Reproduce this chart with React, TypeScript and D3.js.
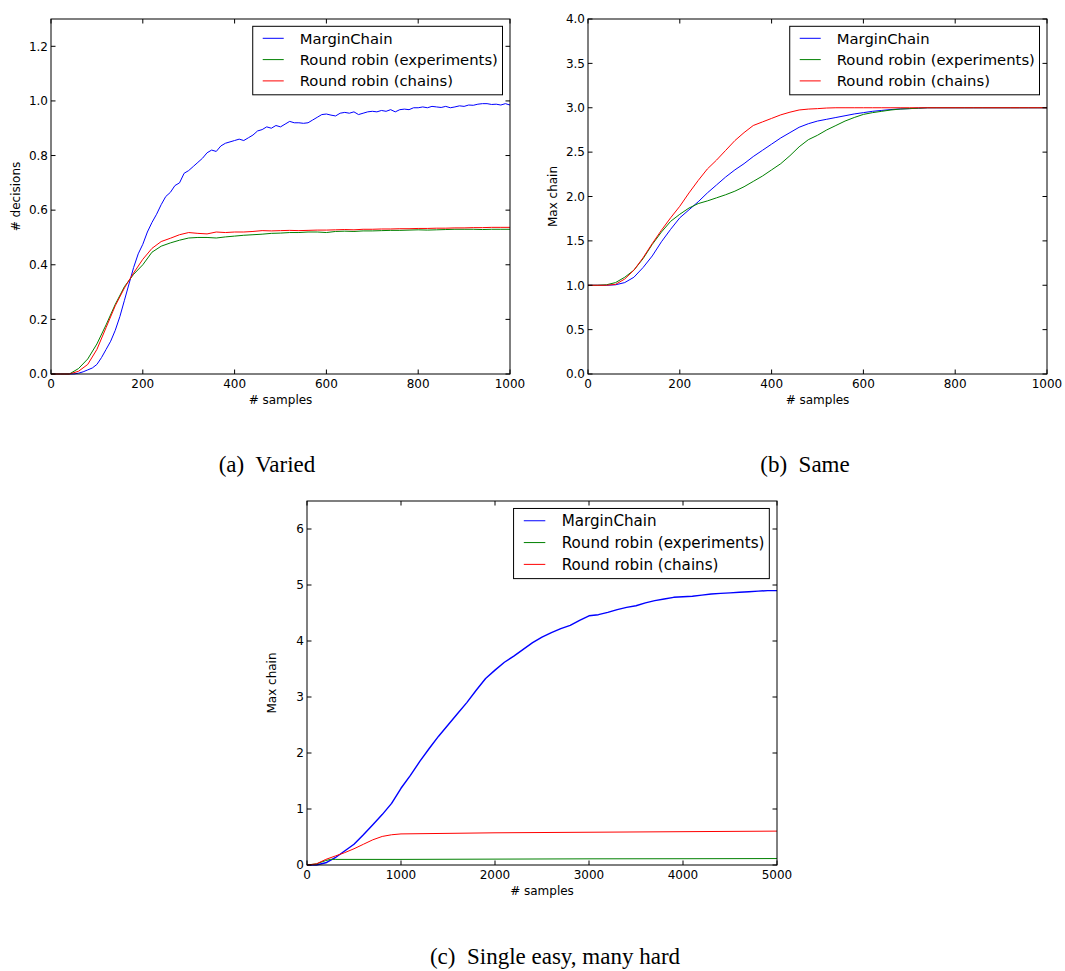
import React from 'react';
import * as d3 from 'd3';

// ---------- shared legend / colours ----------
const seriesNames = ['MarginChain', 'Round robin (experiments)', 'Round robin (chains)'];
const seriesColors = ['#0000ff', '#008000', '#ff0000'];

// ---------- (a) Varied ----------
const aXTicks = [0, 200, 400, 600, 800, 1000];
const aYTicks = [0, 0.2, 0.4, 0.6, 0.8, 1.0, 1.2];
const aBlueX = d3.range(0, 1001, 10);
const aBlue = [
  0, 0, 0, 0, 0, 0, 0.003, 0.008, 0.015, 0.022,
  0.035, 0.06, 0.09, 0.12, 0.16, 0.21, 0.27, 0.33, 0.39, 0.44,
  0.475, 0.52, 0.555, 0.585, 0.62, 0.65, 0.665, 0.69, 0.70, 0.735,
  0.745, 0.76, 0.775, 0.79, 0.81, 0.82, 0.815, 0.835, 0.845, 0.85,
  0.855, 0.86, 0.855, 0.865, 0.875, 0.89, 0.895, 0.905, 0.9, 0.91,
  0.905, 0.915, 0.925, 0.92, 0.92, 0.918, 0.92, 0.93, 0.94, 0.95,
  0.952, 0.948, 0.945, 0.955, 0.958, 0.955, 0.96, 0.95, 0.955, 0.96,
  0.962, 0.96, 0.965, 0.962, 0.968, 0.96, 0.968, 0.97, 0.968, 0.975,
  0.975, 0.978, 0.975, 0.98, 0.978, 0.976, 0.98, 0.975, 0.978, 0.982,
  0.98, 0.985, 0.984, 0.988, 0.99, 0.99, 0.987, 0.988, 0.985, 0.99,
  0.985,
];
const aRrX = d3.range(0, 1001, 20);
const aGreen = [
  0, 0, 0, 0.02, 0.055, 0.11, 0.18, 0.255, 0.32, 0.365,
  0.40, 0.446, 0.468, 0.48, 0.49, 0.498, 0.5, 0.5, 0.498, 0.502,
  0.505, 0.508, 0.51, 0.512, 0.515, 0.516, 0.518, 0.518, 0.52, 0.52,
  0.518, 0.522, 0.523, 0.522, 0.524, 0.524, 0.525, 0.526, 0.526, 0.527,
  0.528, 0.527, 0.528, 0.529, 0.53, 0.53, 0.53, 0.529, 0.53, 0.53,
  0.53,
];
const aRed = [
  0, 0, 0, 0.01, 0.035, 0.09, 0.17, 0.25, 0.315, 0.37,
  0.42, 0.46, 0.485, 0.497, 0.51, 0.518, 0.515, 0.513, 0.52, 0.518,
  0.52, 0.52, 0.522, 0.525, 0.524, 0.525, 0.526, 0.525, 0.526, 0.527,
  0.527, 0.528, 0.529, 0.528, 0.53, 0.53, 0.531, 0.531, 0.532, 0.532,
  0.533, 0.533, 0.534, 0.534, 0.535, 0.535, 0.536, 0.536, 0.537, 0.537,
  0.537,
];

// ---------- (b) Same ----------
const bXTicks = [0, 200, 400, 600, 800, 1000];
const bYTicks = [0, 0.5, 1.0, 1.5, 2.0, 2.5, 3.0, 3.5, 4.0];
const bX = d3.range(0, 1001, 20);
const bBlue = [
  1, 1, 1, 1.005, 1.03, 1.09, 1.2, 1.33, 1.49, 1.63,
  1.76, 1.85, 1.94, 2.04, 2.13, 2.22, 2.30, 2.37, 2.45, 2.52,
  2.59, 2.66, 2.72, 2.78, 2.82, 2.85, 2.87, 2.89, 2.91, 2.93,
  2.945, 2.96, 2.97, 2.98, 2.987, 2.99, 2.995, 3, 3, 3,
  3, 3, 3, 3, 3, 3, 3, 3, 3, 3,
  3,
];
const bGreen = [
  1, 1, 1.005, 1.03, 1.09, 1.17, 1.3, 1.46, 1.6, 1.72,
  1.8, 1.87, 1.92, 1.95, 1.985, 2.02, 2.06, 2.11, 2.17, 2.23,
  2.3, 2.37, 2.46, 2.56, 2.64, 2.69, 2.75, 2.8, 2.85, 2.89,
  2.925, 2.945, 2.96, 2.975, 2.985, 2.99, 2.995, 3, 3, 3,
  3, 3, 3, 3, 3, 3, 3, 3, 3, 3,
  3,
];
const bRed = [
  1, 1, 1, 1.01, 1.07, 1.17, 1.31, 1.47, 1.62, 1.76,
  1.89, 2.04, 2.18, 2.31, 2.41, 2.52, 2.63, 2.72, 2.8, 2.84,
  2.88, 2.92, 2.95, 2.975, 2.985, 2.99, 2.997, 3, 3, 3,
  3, 3, 3, 3, 3, 3, 3, 3, 3, 3,
  3, 3, 3, 3, 3, 3, 3, 3, 3, 3,
  3,
];

// ---------- (c) Single easy, many hard ----------
const cXTicks = [0, 1000, 2000, 3000, 4000, 5000];
const cYTicks = [0, 1, 2, 3, 4, 5, 6];
const cBlueX = d3.range(0, 5001, 100);
const cBlue = [
  0, 0, 0.04, 0.13, 0.25, 0.37, 0.54, 0.72, 0.9, 1.1,
  1.37, 1.6, 1.85, 2.08, 2.3, 2.5, 2.7, 2.9, 3.12, 3.33,
  3.48, 3.62, 3.73, 3.85, 3.97, 4.07, 4.15, 4.22, 4.28, 4.37,
  4.45, 4.47, 4.51, 4.56, 4.6, 4.63, 4.68, 4.72, 4.75, 4.78,
  4.79, 4.8, 4.82, 4.84, 4.85, 4.86, 4.87, 4.88, 4.89, 4.9,
  4.9,
];
const cRedX = [0, 100, 200, 300, 400, 500, 600, 700, 800, 900, 1000, 1500, 2000, 2500, 3000, 3500, 4000, 4500, 5000];
const cRed = [0, 0.02, 0.1, 0.16, 0.22, 0.29, 0.37, 0.45, 0.51, 0.54, 0.555, 0.565, 0.575, 0.58, 0.585, 0.59, 0.595, 0.6, 0.605];
const cGreenX = [0, 100, 200, 250, 300, 500, 1000, 2000, 3000, 4000, 5000];
const cGreen = [0, 0.02, 0.08, 0.1, 0.1, 0.1, 0.1, 0.105, 0.11, 0.112, 0.115];

type Series = { xs: number[]; ys: number[]; color: string; width?: number };

type PanelProps = {
  left: number; top: number; width: number; height: number;
  xDomain: [number, number]; yDomain: [number, number];
  xTicks: number[]; yTicks: number[]; yFmt: (v: number) => string;
  yLabel: string; series: Series[];
};

const FONT = 'DejaVu Sans, sans-serif';

function Panel(p: PanelProps) {
  const x = d3.scaleLinear().domain(p.xDomain).range([p.left, p.left + p.width]);
  const y = d3.scaleLinear().domain(p.yDomain).range([p.top + p.height, p.top]);
  const line = d3.line<[number, number]>().x((d) => x(d[0])).y((d) => y(d[1]));
  const bottom = p.top + p.height;
  const right = p.left + p.width;
  const tl = 4.5;
  const k = p.width / 459;
  const lgLeft = p.left + 0.4395 * p.width;
  const lgRight = right - 7.5 * k;
  const lgTop = p.top + 7.3 * k;
  const lgH = 68.5 * k;
  const rowY = [12, 33.3, 54.6].map((v) => lgTop + v * k);
  const fs = 14.8 * k;
  return (
    <g>
      {p.series.map((s, i) => (
        <path key={i} d={line(s.xs.map((xv, j) => [xv, s.ys[j]] as [number, number])) || ''}
          fill="none" stroke={s.color} strokeWidth={s.width ?? 1} strokeLinejoin="round" />
      ))}
      <rect x={p.left} y={p.top} width={p.width} height={p.height} fill="none" stroke="#000" strokeWidth={1} />
      {p.xTicks.map((t) => (
        <g key={'x' + t}>
          <line x1={x(t)} x2={x(t)} y1={bottom} y2={bottom - tl} stroke="#000" />
          <line x1={x(t)} x2={x(t)} y1={p.top} y2={p.top + tl} stroke="#000" />
          <text x={x(t)} y={bottom + 14} textAnchor="middle" fontFamily={FONT} fontSize={12}>{String(t)}</text>
        </g>
      ))}
      {p.yTicks.map((t) => (
        <g key={'y' + t}>
          <line x1={p.left} x2={p.left + tl} y1={y(t)} y2={y(t)} stroke="#000" />
          <line x1={right} x2={right - tl} y1={y(t)} y2={y(t)} stroke="#000" />
          <text x={p.left - 3} y={y(t) + 4.3} textAnchor="end" fontFamily={FONT} fontSize={12}>{p.yFmt(t)}</text>
        </g>
      ))}
      <text x={p.left + p.width / 2} y={bottom + 29.5} textAnchor="middle" fontFamily={FONT} fontSize={12}># samples</text>
      <text transform={`translate(${p.left - 31},${p.top + p.height / 2}) rotate(-90)`} textAnchor="middle"
        fontFamily={FONT} fontSize={12}>{p.yLabel}</text>
      <rect x={lgLeft} y={lgTop} width={lgRight - lgLeft} height={lgH} fill="#fff" stroke="#000" strokeWidth={1} />
      {seriesNames.map((n, i) => (
        <g key={n}>
          <line x1={lgLeft + 10 * k} x2={lgLeft + 31 * k} y1={rowY[i]} y2={rowY[i]} stroke={seriesColors[i]} strokeWidth={1} />
          <text x={lgLeft + 47 * k} y={rowY[i] + 5.2 * k} fontFamily={FONT} fontSize={fs}>{n}</text>
        </g>
      ))}
    </g>
  );
}

const CAP = 'Liberation Serif, Times New Roman, serif';

export default function App() {
  const f1 = (v: number) => v.toFixed(1);
  const f0 = (v: number) => v.toFixed(0);
  return (
    <svg width={1065} height={971} style={{ position: 'absolute', left: 0, top: 0, background: '#fff' }}>
      <rect x={0} y={0} width={1065} height={971} fill="#fff" />
      <Panel left={51} top={19} width={459} height={355} xDomain={[0, 1000]} yDomain={[0, 1.3]}
        xTicks={aXTicks} yTicks={aYTicks} yFmt={f1} yLabel="# decisions"
        series={[
          { xs: aBlueX, ys: aBlue, color: seriesColors[0] },
          { xs: aRrX, ys: aGreen, color: seriesColors[1] },
          { xs: aRrX, ys: aRed, color: seriesColors[2] },
        ]} />
      <Panel left={588} top={19} width={459} height={355} xDomain={[0, 1000]} yDomain={[0, 4]}
        xTicks={bXTicks} yTicks={bYTicks} yFmt={f1} yLabel="Max chain"
        series={[
          { xs: bX, ys: bBlue, color: seriesColors[0] },
          { xs: bX, ys: bGreen, color: seriesColors[1] },
          { xs: bX, ys: bRed, color: seriesColors[2] },
        ]} />
      <Panel left={307} top={501} width={470} height={364} xDomain={[0, 5000]} yDomain={[0, 6.5]}
        xTicks={cXTicks} yTicks={cYTicks} yFmt={f0} yLabel="Max chain"
        series={[
          { xs: cBlueX, ys: cBlue, color: seriesColors[0], width: 1.4 },
          { xs: cGreenX, ys: cGreen, color: seriesColors[1] },
          { xs: cRedX, ys: cRed, color: seriesColors[2] },
        ]} />
      <text x={267} y={472} textAnchor="middle" fontFamily={CAP} fontSize={23} xmlSpace="preserve">(a)  Varied</text>
      <text x={805} y={472} textAnchor="middle" fontFamily={CAP} fontSize={23} xmlSpace="preserve">(b)  Same</text>
      <text x={555} y={964} textAnchor="middle" fontFamily={CAP} fontSize={23} xmlSpace="preserve">(c)  Single easy, many hard</text>
    </svg>
  );
}
